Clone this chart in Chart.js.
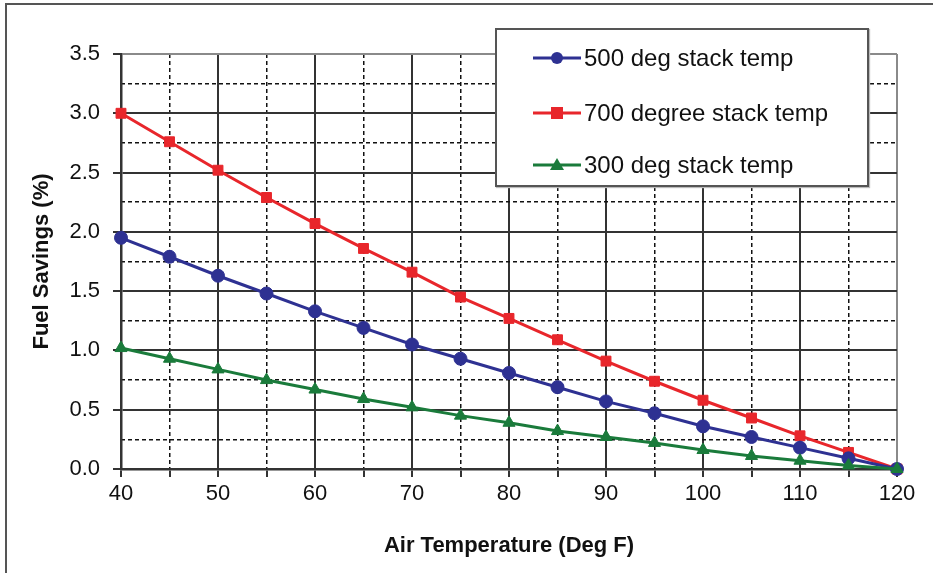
<!DOCTYPE html>
<html>
<head>
<meta charset="utf-8">
<script src="https://cdn.jsdelivr.net/npm/chart.js@4/dist/chart.umd.min.js"></script>
<style>
  html, body { margin: 0; padding: 0; background: #fff; }
  #wrap { position: relative; width: 933px; height: 573px; overflow: hidden; }
  #frame { position: absolute; left: 5px; top: 3px; width: 1000px; height: 1000px;
           border-left: 2px solid #555; border-top: 2px solid #555; pointer-events: none; }
  canvas { position: absolute; left: 0; top: 0; }
  #legend { position: absolute; left: 495px; top: 28px; width: 370px; height: 155px;
            border: 2px solid #555; background: #fff; box-shadow: 1px 1px 1px #bbb;
            font-family: 'Liberation Sans', Arial, sans-serif; font-size: 24px; color: #111; }
  .row { position: absolute; left: 36px; height: 30px; display: flex; align-items: center; white-space: nowrap; }
  .row svg { display: block; margin-right: 3px; }
</style>
</head>
<body>
<div id="wrap">
  <canvas id="c" width="933" height="573"></canvas>
  <div id="frame"></div>
  <div id="legend"></div>
</div>
<script>
// ---- data ----
const airTemps = [40,45,50,55,60,65,70,75,80,85,90,95,100,105,110,115,120];
const seriesNames = ['500 deg stack temp', '700 degree stack temp', '300 deg stack temp'];
const savings500 = [1.95,1.79,1.63,1.48,1.33,1.19,1.05,0.93,0.81,0.69,0.57,0.47,0.36,0.27,0.18,0.09,0.00];
const savings700 = [3.00,2.76,2.52,2.29,2.07,1.86,1.66,1.45,1.27,1.09,0.91,0.74,0.58,0.43,0.28,0.14,0.00];
const savings300 = [1.02,0.93,0.84,0.75,0.67,0.59,0.52,0.45,0.39,0.32,0.27,0.22,0.16,0.11,0.07,0.03,0.00];
const xTitle = 'Air Temperature (Deg F)';
const yTitle = 'Fuel Savings (%)';

// ---- styles ----
const colors = ['#2e3192', '#e8262b', '#1a7b3b'];
const shapes = ['circle', 'rect', 'triangle'];
const radii = [6.5, 7, 7];
const drawOrder = [2, 3, 1];
const seriesValues = [savings500, savings700, savings300];

const FONT = "'Liberation Sans', Arial, sans-serif";
const MAJOR = '#333';
const EDGE = '#8a8a8a';
const CLEAR = 'rgba(0,0,0,0)';

const datasets = seriesValues.map((vals, i) => ({
  label: seriesNames[i],
  data: airTemps.map((x, j) => ({x: x, y: vals[j]})),
  borderColor: colors[i],
  backgroundColor: colors[i],
  pointBackgroundColor: colors[i],
  pointBorderColor: colors[i],
  pointStyle: shapes[i],
  pointRadius: radii[i],
  pointBorderWidth: 1,
  borderWidth: 3,
  tension: 0,
  clip: false,
  order: drawOrder[i]
}));

new Chart(document.getElementById('c'), {
  type: 'line',
  data: { datasets },
  options: {
    responsive: false,
    animation: false,
    devicePixelRatio: 1,
    layout: { padding: { left: 0, right: 36, top: 54, bottom: 0 } },
    plugins: { legend: { display: false }, tooltip: { enabled: false } },
    scales: {
      x: {
        type: 'linear', position: 'bottom', min: 40, max: 120,
        afterFit: s => { s.height = 104; },
        ticks: {
          stepSize: 5, autoSkip: false, maxRotation: 0, padding: 4,
          color: '#111', font: { family: FONT, size: 22 },
          callback: v => (v % 10 === 0 ? String(v) : '')
        },
        grid: {
          color: c => (c.tick && c.tick.value % 10 === 0) ? (c.tick.value === 120 ? EDGE : MAJOR) : CLEAR,
          lineWidth: 2, tickLength: 8, tickColor: MAJOR, tickWidth: 2
        },
        border: { display: true, color: MAJOR, width: 2.5 },
        title: { display: true, text: xTitle, color: '#111',
                 font: { family: FONT, size: 22, weight: 'bold' }, padding: { top: 0, bottom: 14 } }
      },
      xMinor: {
        type: 'linear', position: 'top', min: 40, max: 120,
        afterFit: s => { s.height = 0; },
        ticks: { display: false, stepSize: 5, autoSkip: false },
        grid: {
          color: c => (c.tick && c.tick.value % 10 !== 0) ? '#111' : CLEAR,
          lineWidth: 1.5, drawTicks: false
        },
        border: { display: false, dash: [4, 3] }
      },
      y: {
        type: 'linear', position: 'left', min: 0, max: 3.5,
        afterFit: s => { s.width = 121; },
        ticks: {
          stepSize: 0.25, autoSkip: false, padding: 13,
          color: '#111', font: { family: FONT, size: 22 },
          callback: v => (v % 0.5 === 0 ? v.toFixed(1) : '')
        },
        grid: {
          color: c => (c.tick && c.tick.value % 0.5 === 0) ? (c.tick.value === 3.5 ? EDGE : MAJOR) : CLEAR,
          tickColor: c => (c.tick && c.tick.value % 0.5 === 0) ? MAJOR : CLEAR,
          lineWidth: 2, tickLength: 8, tickWidth: 2
        },
        border: { display: true, color: MAJOR, width: 2.5 },
        title: { display: true, text: yTitle, color: '#111',
                 font: { family: FONT, size: 22, weight: 'bold' }, padding: { top: 29, bottom: 0 } }
      },
      yMinor: {
        type: 'linear', position: 'right', min: 0, max: 3.5,
        afterFit: s => { s.width = 0; },
        ticks: { display: false, stepSize: 0.25, autoSkip: false },
        grid: {
          color: c => (c.tick && c.tick.value % 0.5 !== 0) ? '#111' : CLEAR,
          lineWidth: 1.5, drawTicks: false
        },
        border: { display: false, dash: [4, 3] }
      }
    }
  }
});

// ---- HTML legend ----
const legend = document.getElementById('legend');
const rowTops = [13, 68, 120];
seriesNames.forEach((name, i) => {
  const row = document.createElement('div');
  row.className = 'row';
  row.style.top = rowTops[i] + 'px';
  const c = colors[i];
  let marker;
  if (shapes[i] === 'circle') marker = `<circle cx="24" cy="15" r="6" fill="${c}"/>`;
  else if (shapes[i] === 'rect') marker = `<rect x="18" y="9" width="12" height="12" fill="${c}"/>`;
  else marker = `<polygon points="24,8 31,20 17,20" fill="${c}"/>`;
  row.innerHTML = `<svg width="48" height="30"><line x1="0" y1="15" x2="48" y2="15" stroke="${c}" stroke-width="3"/>${marker}</svg><span>${name}</span>`;
  legend.appendChild(row);
});
</script>
</body>
</html>
